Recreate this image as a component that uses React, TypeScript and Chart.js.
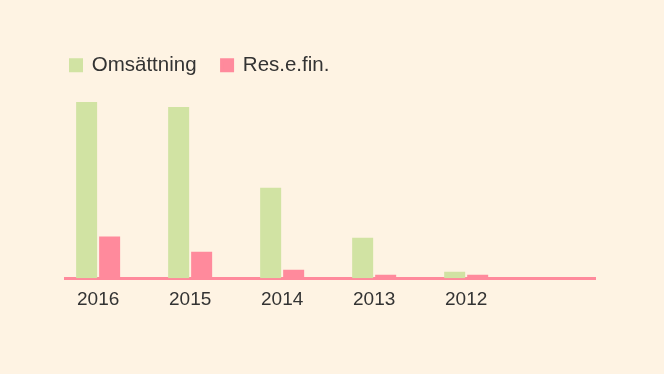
import React, { useEffect, useRef } from "react";
import { Chart, registerables } from "chart.js";

Chart.register(...registerables);

const years = ["2016", "2015", "2014", "2013", "2012"];
const omsattning = [17.65, 17.15, 9.05, 4.05, 0.65];
const resEFin = [4.18, 2.65, 0.85, 0.35, 0.35];

const BG = "#FEF3E3";
const GREEN = "#D1E3A3";
const PINK = "#FF8A9C";
const TEXT = "#333333";
const FONT = "'Liberation Sans', Arial, sans-serif";

export default function App() {
  const ref = useRef<HTMLCanvasElement | null>(null);

  useEffect(() => {
    if (!ref.current) return;
    const chart = new Chart(ref.current, {
      type: "bar",
      data: {
        datasets: [
          {
            label: "Omsättning",
            data: years.map((_, i) => ({ x: i, y: omsattning[i] })),
            backgroundColor: GREEN,
            borderWidth: 0,
          },
          {
            label: "Res.e.fin.",
            data: years.map((_, i) => ({ x: i, y: resEFin[i] })),
            backgroundColor: PINK,
            borderWidth: 0,
          },
        ],
      },
      options: {
        animation: false,
        responsive: true,
        maintainAspectRatio: false,
        layout: { padding: { left: 45.5, right: 69, top: 30, bottom: 53 } },
        datasets: { bar: { categoryPercentage: 0.5, barPercentage: 0.913 } },
        plugins: {
          legend: {
            position: "top",
            align: "start",
            labels: {
              boxWidth: 11,
              boxHeight: 11,
              padding: 25,
              color: TEXT,
              font: { family: FONT, size: 20.5 },
              generateLabels: (c: any) =>
                Chart.defaults.plugins.legend.labels
                  .generateLabels(c)
                  .map((item: any) => ({
                    ...item,
                    lineWidth: 3,
                    strokeStyle: item.fillStyle,
                  })),
            },
          },
          tooltip: { enabled: false },
        },
        scales: {
          x: {
            type: "linear",
            min: -0.36,
            max: 5.4,
            offset: false,
            z: 1,
            grid: { display: false, drawTicks: false },
            border: { display: true, color: PINK, width: 3 },
            ticks: {
              stepSize: 1,
              includeBounds: false,
              autoSkip: false,
              maxRotation: 0,
              padding: 10,
              color: TEXT,
              font: { family: FONT, size: 19 },
              callback: (v: any) => {
                const n = Number(v);
                return Number.isInteger(n) && years[n] ? years[n] : "";
              },
            },
          },
          y: {
            display: true,
            min: 0,
            max: 19.3,
            grid: { display: false, drawTicks: false },
            border: { display: false },
            ticks: { display: false },
            afterFit: (scale: any) => {
              scale.width = 19.5;
            },
          },
        },
      },
    });
    return () => chart.destroy();
  }, []);

  return (
    <div
      style={{
        position: "fixed",
        left: 0,
        top: 0,
        width: 664,
        height: 374,
        background: BG,
      }}
    >
      <canvas ref={ref} />
    </div>
  );
}
